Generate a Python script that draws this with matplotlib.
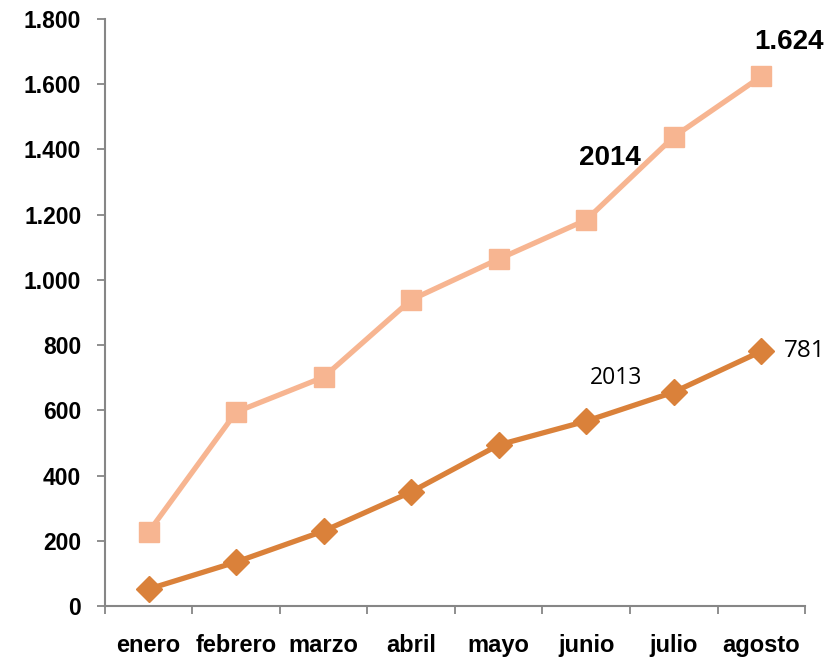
import matplotlib
matplotlib.use("Agg")
import matplotlib.pyplot as plt
from matplotlib.ticker import FuncFormatter

months = ["enero", "febrero", "marzo", "abril", "mayo", "junio", "julio", "agosto"]
v2014 = [227, 595, 702, 939, 1064, 1184, 1439, 1624]
v2013 = [52, 135, 230, 350, 494, 567, 656, 781]
yticks = [0, 200, 400, 600, 800, 1000, 1200, 1400, 1600, 1800]

c2014 = "#F7B591"
c2013 = "#DA813A"
axis_c = "#868686"

plt.rcParams['font.family'] = ['Liberation Sans', 'DejaVu Sans']

fig = plt.figure(figsize=(8.39, 6.57), dpi=100)
ax = fig.add_axes([0.125, 0.0776, 0.8345, 0.8934])
x = list(range(len(months)))

ax.plot(x, v2014, color=c2014, lw=3.8, marker="s", ms=14.5, mec=c2014, mfc=c2014, zorder=3)
ax.plot(x, v2013, color=c2013, lw=3.8, marker="D", ms=13, mec=c2013, mfc=c2013, zorder=4)

ax.set_xlim(-0.5, 7.5)
ax.set_ylim(0, 1800)
ax.set_yticks(yticks)
ax.yaxis.set_major_formatter(FuncFormatter(lambda v, p: f"{int(v):,}".replace(",", ".")))
ax.set_xticks([i + 0.5 for i in range(-1, 8)])
ax.set_xticklabels([])
ax.set_xticks(x, minor=True)
ax.set_xticklabels(months, minor=True)
ax.tick_params(axis="x", which="minor", length=0, pad=20, labelsize=17)
ax.tick_params(axis="x", which="major", length=6, width=1.3, color=axis_c, direction="out")
ax.tick_params(axis="y", length=6, width=1.3, color=axis_c, direction="out", labelsize=16.5, pad=11)
for lab in ax.get_yticklabels() + ax.get_xticklabels(minor=True):
    lab.set_fontweight("bold")

for s in ["top", "right"]:
    ax.spines[s].set_visible(False)
for s in ["left", "bottom"]:
    ax.spines[s].set_color(axis_c)
    ax.spines[s].set_linewidth(1.5)

ax.annotate("1.624", (7, v2014[7]), xytext=(20, 25), textcoords="offset points",
            ha="center", va="center", fontsize=20, fontweight="bold")
ax.text(5.27, 1374, "2014", ha="center", va="center", fontsize=20, fontweight="bold")
ax.text(5.34, 700, "2013", ha="center", va="center", fontsize=16.5, family=["Open Sans", "DejaVu Sans"])
ax.annotate("781", (7, v2013[7]), xytext=(16.5, 0), textcoords="offset points",
            ha="left", va="center", fontsize=17.5, family=["Open Sans", "DejaVu Sans"])

fig.savefig("out.png", dpi=100)
